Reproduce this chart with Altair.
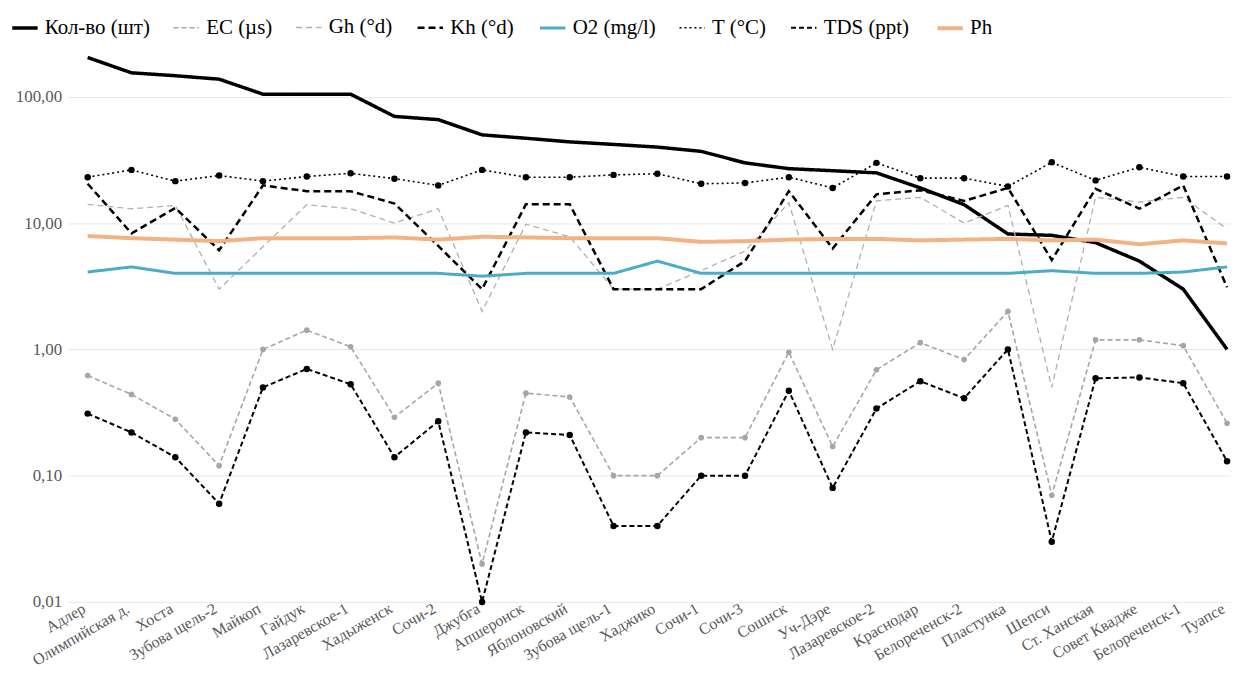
import json
import altair as alt
import pandas as pd

names = ["Адлер", "Олимпийская д.", "Хоста", "Зубова щель-2", "Майкоп", "Гайдук",
         "Лазаревское-1", "Хадыженск", "Сочи-2", "Джубга", "Апшеронск", "Яблоновский",
         "Зубова щель-1", "Хаджико", "Сочи-1", "Сочи-3", "Сошнск", "Уч-Дэре",
         "Лазаревское-2", "Краснодар", "Белореченск-2", "Пластунка", "Шепси",
         "Ст. Ханская", "Совет Квадже", "Белореченск-1", "Туапсе"]

kolvo = [205, 155, 147, 138, 105, 105, 105, 70, 66, 50, 47, 44, 42, 40, 37, 30, 27, 26, 25,
         19, 14, 8.2, 8, 7, 5, 3, 1]
ec = [0.62, 0.44, 0.28, 0.12, 1.0, 1.42, 1.05, 0.29, 0.54, 0.02, 0.45, 0.42, 0.10, 0.10,
      0.20, 0.20, 0.95, 0.17, 0.69, 1.13, 0.83, 2.0, 0.07, 1.19, 1.19, 1.07, 0.26]
gh = [14.1, 13, 13.8, 3.0, 6.5, 14, 13, 10, 13, 2.0, 9.8, 7.8, 3.0, 3.0, 4.2, 6.0, 14.5,
      1.0, 15, 16, 10, 13.8, 0.5, 16, 14.7, 16, 9.0]
kh = [20.5, 8.3, 13.2, 6.1, 19.9, 17.9, 17.9, 14.3, 6.6, 3.0, 14.1, 14.1, 3.0, 3.0, 3.0,
      5.0, 17.9, 6.3, 16.9, 18.2, 15, 19, 5.1, 18.7, 13, 19.9, 3.1]
o2 = [4.1, 4.5, 4.0, 4.0, 4.0, 4.0, 4.0, 4.0, 4.0, 3.8, 4.0, 4.0, 4.0, 5.0, 4.0, 4.0, 4.0,
      4.0, 4.0, 4.0, 4.0, 4.0, 4.2, 4.0, 4.0, 4.1, 4.5]
temp = [23.1, 26.4, 21.5, 23.8, 21.5, 23.4, 24.8, 22.5, 19.9, 26.4, 23.1, 23.1, 24.1, 24.6,
        20.5, 20.8, 23.1, 19.0, 30, 22.7, 22.7, 19.5, 30.3, 21.8, 27.7, 23.4, 23.4]
tds = [0.31, 0.22, 0.14, 0.06, 0.50, 0.70, 0.53, 0.14, 0.27, 0.01, 0.22, 0.21, 0.04, 0.04,
       0.10, 0.10, 0.47, 0.08, 0.34, 0.56, 0.41, 1.0, 0.03, 0.59, 0.60, 0.54, 0.13]
ph = [7.9, 7.6, 7.4, 7.2, 7.6, 7.6, 7.6, 7.7, 7.4, 7.8, 7.7, 7.6, 7.6, 7.6, 7.1, 7.2, 7.4,
      7.5, 7.5, 7.3, 7.4, 7.5, 7.3, 7.4, 6.8, 7.3, 6.9]

series_names = ["Кол-во (шт)", "EC (µs)", "Gh (°d)", "Kh (°d)", "O2 (mg/l)", "T (°C)",
                "TDS (ppt)", "Ph"]
series_values = [kolvo, ec, gh, kh, o2, temp, tds, ph]
series_colors = ["#000000", "#a6a6a6", "#b0b0b0", "#000000", "#4bacc6", "#000000",
                 "#000000", "#f4b183"]
series_dash = [[1, 0], [5, 3], [6, 4], [7, 4], [1, 0], [2, 3], [5, 3], [1, 0]]
series_width = [3.5, 1.6, 1.3, 2.5, 3, 1.6, 2, 4]

rows = []
for s, vals in zip(series_names, series_values):
    for i, v in enumerate(vals):
        rows.append({"idx": i, "station": names[i], "series": s, "value": v})
df = pd.DataFrame(rows)

label_expr = json.dumps(names, ensure_ascii=False) + "[datum.value]"
SERIF = "Liberation Serif"
LEGEND_FONT = "Times New Roman, Liberation Serif, serif"

xenc = alt.X("idx:Q",
             scale=alt.Scale(domain=[-0.4545, 26.09], nice=False, zero=False),
             axis=alt.Axis(values=list(range(len(names))), labelExpr=label_expr,
                           labelAngle=330, labelAlign="right", labelBaseline="middle",
                           labelOverlap=False, labelBound=False, labelPadding=5,
                           labelOffset=-4,
                           grid=False, ticks=False, domain=False, title=None,
                           labelFont=SERIF, labelFontSize=16,
                           labelColor="#595959"))
yenc = alt.Y("value:Q",
             scale=alt.Scale(type="log", domain=[0.01, 230], nice=False),
             axis=alt.Axis(values=[0.01, 0.1, 1, 10, 100],
                           labelExpr="replace(format(datum.value, '.2f'), '.', ',')",
                           grid=True, gridColor="#e8e8e8", gridWidth=1,
                           ticks=False, domain=False, title=None,
                           labelFont=SERIF, labelFontSize=17,
                           labelColor="#595959", labelPadding=6))

legend = alt.Legend(orient="none", legendX=-58, legendY=-38, direction="horizontal",
                    title=None, columns=8, labelFont=LEGEND_FONT, labelFontSize=21,
                    labelColor="#000000")

lines = alt.Chart(df).mark_line(strokeCap="butt").encode(
    x=xenc, y=yenc,
    color=alt.Color("series:N", scale=alt.Scale(domain=series_names, range=series_colors),
                    legend=legend, sort=series_names),
    strokeDash=alt.StrokeDash("series:N",
                              scale=alt.Scale(type="ordinal", domain=series_names, range=series_dash),
                              legend=legend, sort=series_names),
    strokeWidth=alt.StrokeWidth("series:N",
                                scale=alt.Scale(type="ordinal", domain=series_names, range=series_width),
                                legend=legend, sort=series_names),
    detail="series:N",
)

def dots(name, color, size):
    return alt.Chart(df).transform_filter(alt.datum.series == name).mark_circle(
        color=color, size=size, opacity=1).encode(x=xenc, y=yenc)

chart = alt.layer(
    lines,
    dots("EC (µs)", "#a6a6a6", 32),
    dots("T (°C)", "#000000", 42),
    dots("TDS (ppt)", "#000000", 42),
).properties(
    width=1168, height=553,
    autosize=alt.AutoSizeParams(type="none"),
    padding={"left": 60, "top": 42, "right": 0, "bottom": 66},
).configure(
    font=SERIF,
    style={"guide-label": {"font": SERIF}, "guide-title": {"font": SERIF}},
).configure_view(stroke=None).configure_legend(
    symbolType="stroke", symbolSize=650,
    labelFont=LEGEND_FONT, labelFontSize=21, labelColor="#000000",
    labelOffset=5, columnPadding=20, labelLimit=300,
)

chart.save("out.html", embed_options={"renderer": "svg", "actions": False})
